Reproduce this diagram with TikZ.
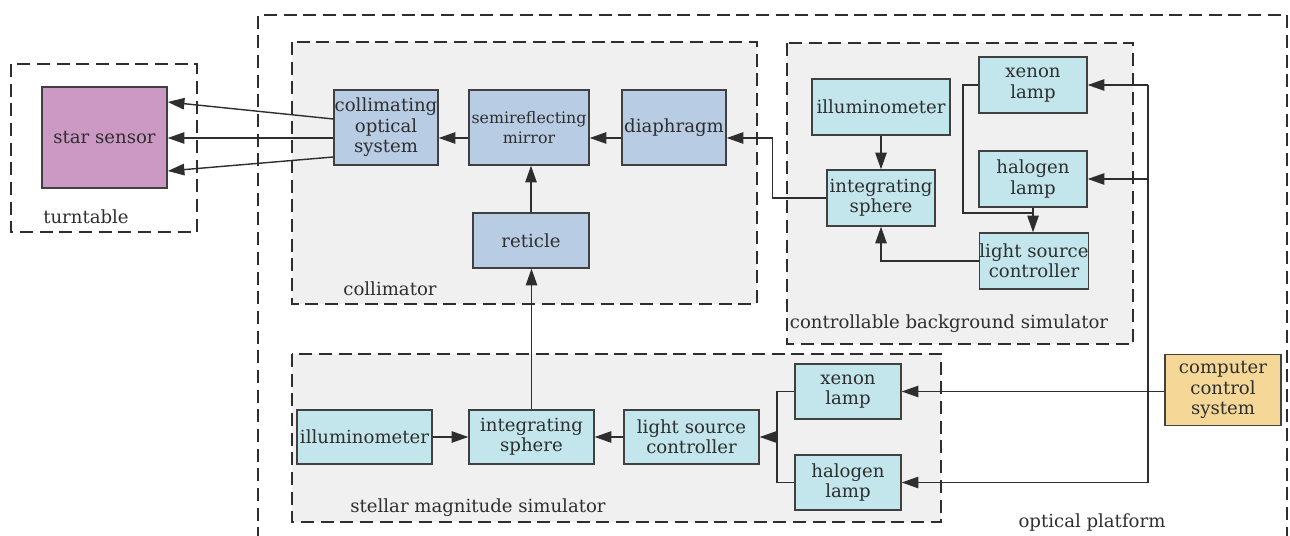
\documentclass[tikz,border=0pt]{standalone}
\usepackage{fontspec}
\setmainfont{DejaVu Serif}
\usetikzlibrary{arrows.meta,calc}
\definecolor{grp}{HTML}{F0F0F0}
\definecolor{ink}{HTML}{2E2E2E}
\definecolor{bord}{HTML}{404040}
\definecolor{purp}{HTML}{CC99C5}
\definecolor{blu}{HTML}{B8CCE4}
\definecolor{cya}{HTML}{C2E6EC}
\definecolor{yel}{HTML}{F5D898}
\tikzset{
  bx/.style 2 args={draw=bord, line width=0.8pt, inner sep=0pt, align=center,
    minimum width=#1*0.02cm, minimum height=#2*0.02cm, text=ink,
    font=\fontsize{10.3}{11.6}\selectfont},
  grpbox/.style={draw=ink, line width=1.1pt, dash pattern=on 7.4pt off 3.8pt},
  lbl/.style={text=ink, font=\fontsize{10.3}{11.6}\selectfont, inner sep=0pt},
  arr/.style={draw=ink, line width=0.8pt, -{Triangle[length=9.5pt,width=6.5pt]}},
  ln/.style={draw=ink, line width=0.8pt},
}
\begin{document}
\begin{tikzpicture}[x=0.02cm,y=-0.02cm]
\useasboundingbox (0,0) rectangle (1290,536);
\clip (0,0) rectangle (1290,536);
% group boxes
\draw[grpbox] (258,560) -- (258,15) -- (1287,15) -- (1287,560);
\draw[grpbox] (11,64) rectangle (197,232);
\draw[grpbox, fill=grp] (292,42) rectangle (757,304);
\draw[grpbox, fill=grp] (787,43) rectangle (1133,344);
\draw[grpbox, fill=grp] (292,354) rectangle (941,522);
% group labels
\node[lbl] (ltt) at (86,217) {turntable};
\node[lbl] (lcol) at (390,289) {collimator};
\node[lbl] (lcbs) at (949,324) {controllable background simulator};
\node[lbl] (lsms) at (478,508) {stellar magnitude simulator};
\node[lbl] (lop) at (1092,523) {optical platform};
% nodes
\node[bx={125}{101}, fill=purp] (star) at (104.5,137.5) {star sensor};
\node[bx={104}{75}, fill=blu] (coll) at (386,127.5) {collimating\\optical\\system};
\node[bx={120}{75}, fill=blu, font=\fontsize{9}{11}\selectfont] (semi) at (529,127.5) {semireflecting\\mirror};
\node[bx={104}{75}, fill=blu] (diaph) at (674,127.5) {diaphragm};
\node[bx={116}{55}, fill=blu] (ret) at (531,240.5) {reticle};
\node[bx={138}{56}, fill=cya] (illT) at (881,107) {illuminometer};
\node[bx={108}{56}, fill=cya] (intT) at (881,198) {integrating\\sphere};
\node[bx={108}{56}, fill=cya] (xenT) at (1033,85) {xenon\\lamp};
\node[bx={108}{56}, fill=cya] (halT) at (1033,179) {halogen\\lamp};
\node[bx={108}{56}, fill=cya] (lscT) at (1034,261) {light source\\controller};
\node[bx={135}{54}, fill=cya] (illB) at (364.5,437) {illuminometer};
\node[bx={125}{54}, fill=cya] (intB) at (531.5,437) {integrating\\sphere};
\node[bx={135}{54}, fill=cya] (lscB) at (691.5,437) {light source\\controller};
\node[bx={106}{55}, fill=cya] (xenB) at (848,391.5) {xenon\\lamp};
\node[bx={106}{55}, fill=cya] (halB) at (848,482.5) {halogen\\lamp};
\node[bx={116}{71}, fill=yel] (comp) at (1223,390) {computer\\control\\system};
% helper coordinates
\coordinate (r) at (0,138);
\coordinate (tr) at (1148,0);
\coordinate (j1) at (963,213);
\coordinate (j2) at (777,437);
% collimator connectors
\draw[arr] ($(coll.west)+(0,-8.5)$) -- ($(star.east)+(0,-35.5)$);
\draw[arr] (coll.west |- r) -- (star.east |- r);
\draw[arr] ($(coll.west)+(0,29.5)$) -- ($(star.east)+(0,33.5)$);
\draw[arr] (semi.west |- r) -- (coll.east |- r);
\draw[arr] (diaph.west |- r) -- (semi.east |- r);
\draw[arr] (ret.north) -- (ret.north |- semi.south);
\draw[arr] (intB.north) -- (intB.north |- ret.south);
% controllable background simulator
\draw[arr] (intT.west) -- ++(-54,0) |- (diaph.east |- r);
\draw[arr] (illT.south) -- (intT.north);
\draw[arr] (lscT.west) -| (intT.south);
\draw[ln] (xenT.west) -| (j1) -| (halT.south);
\draw[arr] (halT.south) -- (halT.south |- lscT.north);
% computer control system
\draw[ln] (tr |- xenT.east) -- (tr |- halB.east);
\draw[arr] (tr |- xenT.east) -- (xenT.east);
\draw[arr] (tr |- halT.east) -- (halT.east);
\draw[arr] (comp.west |- xenB.east) -- (xenB.east);
\draw[arr] (tr |- halB.east) -- (halB.east);
% stellar magnitude simulator
\draw[ln] (xenB.west) -| (j2) |- (halB.west);
\draw[arr] (j2) -- (lscB.east);
\draw[arr] (lscB.west) -- (intB.east);
\draw[arr] (illB.east) -- (intB.west);
\end{tikzpicture}
\end{document}
